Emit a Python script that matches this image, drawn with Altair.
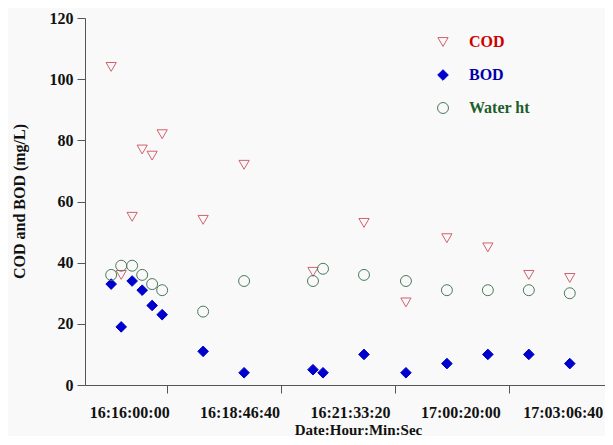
import altair as alt
import pandas as pd

# time offset (seconds after 16:16:00:00) of each sample
t_sec = [-1630, -720, 270, 1180, 2080, 2990, 6700, 10410,
         16650, 17560, 21270, 25070, 28780, 32490, 36200, 39910]
cod = [104, 36, 55, 77, 75, 82, 54, 72, 37, None, 53, 27, 48, 45, 36, 35]
bod = [33, 19, 34, 31, 26, 23, 11, 4, 5, 4, 10, 4, 7, 10, 10, 7]
water = [36, 39, 39, 36, 33, 31, 24, 34, 34, 38, 36, 34, 31, 31, 31, 30]

series = ["COD", "BOD", "Water ht"]
label_values = [0, 10000, 20000, 30000, 40000]
label_texts = ["16:16:00:00", "16:18:46:40", "16:21:33:20", "17:00:20:00", "17:03:06:40"]
tick_values = [3440, 13760, 24070, 34390]
y_ticks = [0, 20, 40, 60, 80, 100, 120]

rows = []
for name, vals in zip(series, [cod, bod, water]):
    for t, v in zip(t_sec, vals):
        if v is not None:
            rows.append({"t": t, "v": v, "s": name})
df = pd.DataFrame(rows)

expr = "''"
for val, txt in zip(reversed(label_values), reversed(label_texts)):
    expr = f"datum.value == {val} ? '{txt}' : ({expr})"

FONT = "Liberation Serif"
xscale = alt.Scale(domain=[-4000, 43100], nice=False, zero=False)

legend = alt.Legend(
    title=None, orient="none", legendX=350, legendY=16, padding=0,
    symbolStrokeWidth=1, labelFont=FONT, labelFontSize=16, labelFontWeight="bold",
    labelOffset=18, rowPadding=17,
    labelColor=alt.ExprRef("datum.label == 'COD' ? '#cc0000' : datum.label == 'BOD' ? '#0000aa' : '#1d5e2c'"),
)

points = alt.Chart(df).mark_point(opacity=1, strokeWidth=1).encode(
    x=alt.X("t:Q", scale=xscale, axis=alt.Axis(
        orient="bottom", values=label_values, labelExpr=expr, ticks=False, tickSize=0,
        domain=False, grid=False, labelPadding=19, labelFont=FONT, labelFontSize=16,
        labelFontWeight="bold", labelColor="#111",
        labelOffset=alt.ExprRef("datum.value == 40000 ? -8 : 0"),
        title="Date:Hour:Min:Sec",
        titleFont=FONT, titleFontSize=15, titleFontWeight="bold", titleColor="#111",
        titleX=273, titleY=37, titleBaseline="top")),
    y=alt.Y("v:Q", scale=alt.Scale(domain=[0, 120], nice=False), axis=alt.Axis(
        values=y_ticks, tickSize=8, labelPadding=4, grid=False, domainColor="#555",
        tickColor="#555", labelFont=FONT, labelFontSize=16, labelFontWeight="bold",
        labelColor="#111", title="COD and BOD (mg/L)", titleFont=FONT, titleFontSize=16,
        titleFontWeight="bold", titleColor="#111", titleX=-66, titleY=183,
        titleBaseline="middle", titleAngle=270)),
    shape=alt.Shape("s:N", scale=alt.Scale(domain=series, range=["triangle-down", "diamond", "circle"]),
                    legend=legend),
    stroke=alt.Stroke("s:N", scale=alt.Scale(domain=series, range=["#d2606c", "#0000cc", "#4a7a5a"]),
                      legend=legend),
    fill=alt.Fill("s:N", scale=alt.Scale(domain=series, range=["transparent", "#0000cc", "transparent"]),
                  legend=legend),
    size=alt.Size("s:N", scale=alt.Scale(domain=series, range=[105, 120, 150]), legend=legend),
)

tick_layer = alt.Chart(df).mark_point(opacity=0).encode(
    x=alt.X("t:Q", scale=xscale, axis=alt.Axis(
        orient="bottom", values=tick_values, labels=False, ticks=True, tickSize=8,
        domain=True, grid=False, domainColor="#555", tickColor="#555", title=None)),
)

chart = alt.layer(points, tick_layer).resolve_axis(x="independent").properties(
    width=520, height=367,
    autosize=alt.AutoSizeParams(type="none"),
    padding={"left": 77, "top": 10, "right": 0, "bottom": 51},
    background="#f9f9f9",
).configure_view(stroke=None)

chart.save("out.html", embed_options={"renderer": "svg", "actions": False})
